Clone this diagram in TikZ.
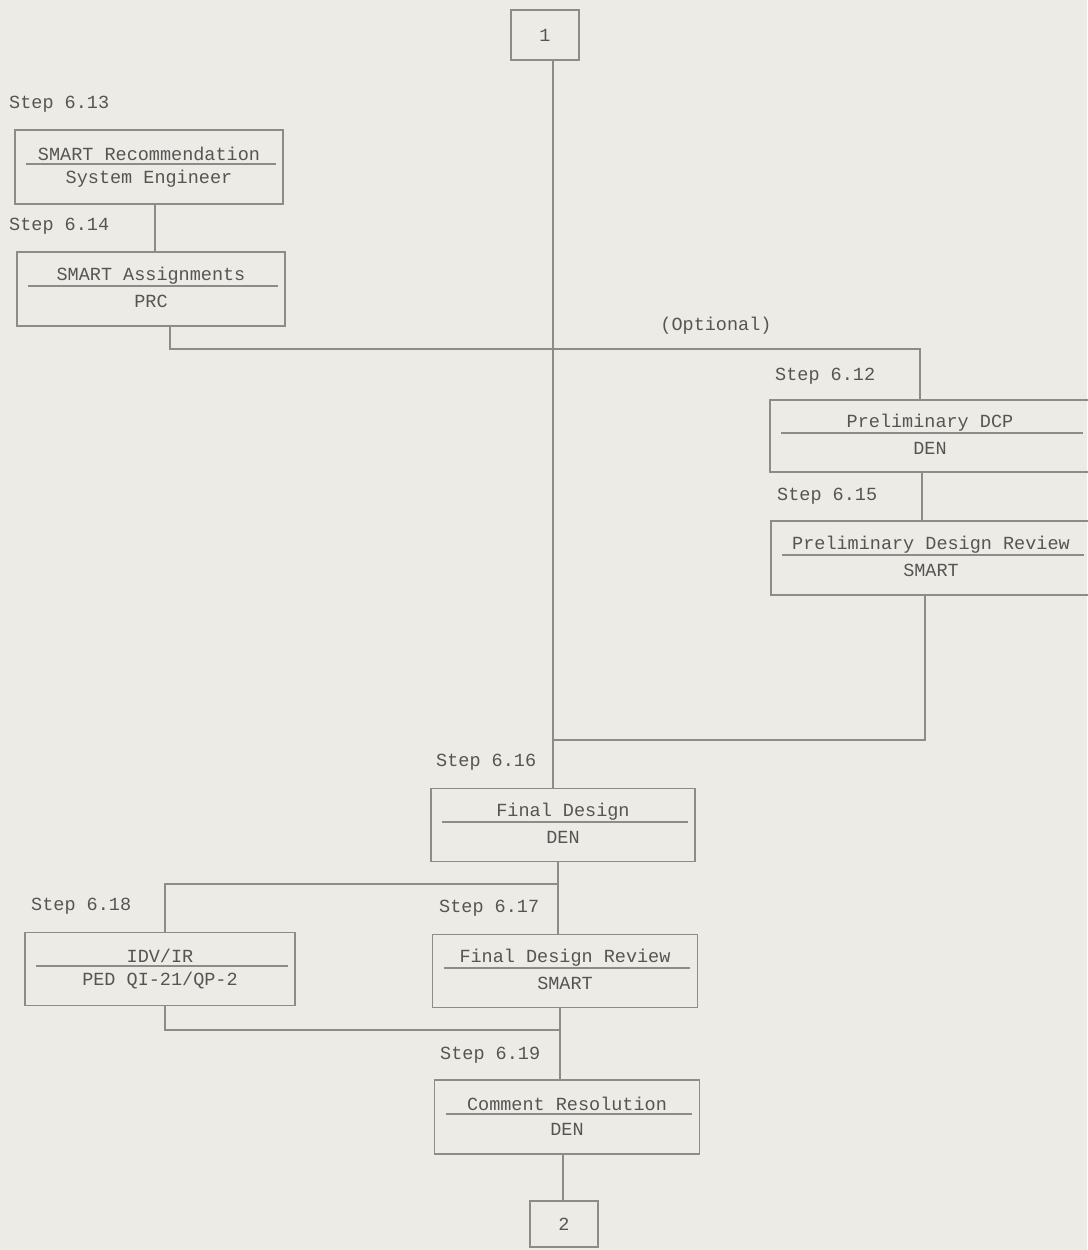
\documentclass[tikz,border=0pt]{standalone}
\usepackage{fontspec}
\setmonofont{Liberation Mono}
\definecolor{bg}{HTML}{ECEBE6}
\definecolor{ln}{HTML}{8C8C8A}
\definecolor{tx}{HTML}{555553}
\newcommand\mybox[7]{%
  \node[boxst, minimum width=#4pt, minimum height=#5pt] (#1) at (#2,#3) {};
  \node[txt] (#1t) at (#2,#3-13) {#6};
  \node[txt] (#1s) at (#2,#3+12) {#7};
  \draw[ul] ([xshift=12pt]#1.west |- 0,#3-3) -- ([xshift=-8pt]#1.east |- 0,#3-3);
}
\begin{document}
\begin{tikzpicture}[x=1pt,y=-1pt,
  boxst/.style={draw=ln, line width=1.3pt, inner sep=0pt},
  txt/.style={font=\ttfamily\fontsize{18.5}{19}\selectfont, text=tx, inner sep=0pt},
  lbl/.style={font=\ttfamily\fontsize{18.5}{19}\selectfont, text=tx, inner sep=0pt, anchor=west},
  ul/.style={draw=ln, line width=1.1pt},
  con/.style={draw=ln, line width=1.3pt}]
\fill[bg] (0,0) rectangle (1087,1250);
\useasboundingbox (0,0) rectangle (1087,1250);
% terminals
\node[boxst, minimum width=68pt, minimum height=50pt, txt] (n1) at (545,35) {1};
\node[boxst, minimum width=68pt, minimum height=46pt, txt] (n2) at (564,1224) {2};
% boxes
\mybox{A}{149}{167}{268}{74}{SMART Recommendation}{System Engineer}
\mybox{B}{151}{289}{268}{74}{SMART Assignments}{PRC}
\mybox{C}{930}{436}{320}{72}{Preliminary DCP}{DEN}
\mybox{D}{931}{558}{320}{74}{Preliminary Design Review}{SMART}
\mybox{E}{563}{825}{264}{73}{Final Design}{DEN}
\mybox{F}{160}{969}{270}{73}{IDV/IR}{PED QI-21/QP-2}
\mybox{G}{565}{971}{265}{73}{Final Design Review}{SMART}
\mybox{H}{567}{1117}{265}{74}{Comment Resolution}{DEN}
% step labels
\node[lbl] (lA) at (9,104) {Step 6.13};
\node[lbl] (lB) at (9,226) {Step 6.14};
\node[lbl] (lC) at (775,376) {Step 6.12};
\node[lbl] (lD) at (777,496) {Step 6.15};
\node[lbl] (lE) at (436,762) {Step 6.16};
\node[lbl] (lF) at (31,906) {Step 6.18};
\node[lbl] (lG) at (439,908) {Step 6.17};
\node[lbl] (lH) at (440,1055) {Step 6.19};
\node[txt] (opt) at (716,326) {(Optional)};
% coordinates
\coordinate (j1) at (553,349);
\coordinate (j2) at (553,740);
\coordinate (j3) at (558,884);
\coordinate (j4) at (560,1030);
% connectors
\draw[con] (n1.south -| j1) -- (j2) -- (E.north -| j2);
\draw[con] (A.south -| 155,0) -- (B.north -| 155,0);
\draw[con] (B.south -| 170,0) -- (170,349) -- (920,349) -- (C.north -| 920,0);
\draw[con] (C.south -| 922,0) -- (D.north -| 922,0);
\draw[con] (D.south -| 925,0) -- (925,740) -- (j2);
\draw[con] (E.south -| j3) -- (G.north -| j3);
\draw[con] (j3) -- (165,884) -- (F.north -| 165,0);
\draw[con] (F.south -| 165,0) -- (165,1030) -- (j4);
\draw[con] (G.south -| j4) -- (H.north -| j4);
\draw[con] (H.south -| 563,0) -- (n2.north -| 563,0);
\end{tikzpicture}
\end{document}
